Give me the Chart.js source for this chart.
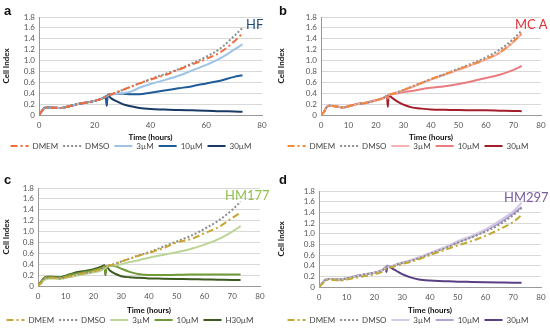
<!DOCTYPE html>
<html>
<head>
<meta charset="utf-8">
<script src="https://cdn.jsdelivr.net/npm/chart.js@4.4.0/dist/chart.umd.min.js"></script>
<style>
  body { margin: 0; background: #fff; font-family: Lato, "Liberation Sans", sans-serif; overflow: hidden; }
  #wrap { position: relative; width: 550px; height: 331px; }
  .panel { position: absolute; width: 275px; }
  .letter { position: absolute; font: bold 13px "Liberation Sans", Arial, sans-serif; color: #111; }
  .name { position: absolute; font-size: 13px; }
</style>
</head>
<body>
<div id="wrap">
  <div class="panel" style="left:0;top:0"><canvas id="cA" width="275" height="165"></canvas></div>
  <div class="panel" style="left:275px;top:0"><canvas id="cB" width="275" height="165"></canvas></div>
  <div class="panel" style="left:0;top:165px"><canvas id="cC" width="275" height="170"></canvas></div>
  <div class="panel" style="left:275px;top:165px"><canvas id="cD" width="275" height="170"></canvas></div>
  <div class="letter" style="left:4px;top:3px">a</div>
  <div class="letter" style="left:279px;top:3px">b</div>
  <div class="letter" style="left:4px;top:172px">c</div>
  <div class="letter" style="left:279px;top:172px">d</div>
  <div class="name" style="left:246px;top:16px;color:#1f4e79">HF</div>
  <div class="name" style="left:515px;top:16px;color:#e0303a">MC A</div>
  <div class="name" style="left:225px;top:187px;color:#92c050">HM177</div>
  <div class="name" style="left:504px;top:189px;color:#7a5ca0">HM297</div>
</div>
<script>
// time points (hours)
const times = [0, 1, 2, 3, 5, 8, 10, 13, 16, 20, 23, 24, 24.3, 24.6, 26, 28, 30, 33, 36, 40, 45, 50, 55, 60, 65, 70, 73];
const labels = ["DMEM", "DMSO", "3\u00b5M", "10\u00b5M", "30\u00b5M"];
const labelsC = ["DMEM", "DMSO", "3\u00b5M", "10\u00b5M", "H30\u00b5M"];
const yTicks = [0, 0.2, 0.4, 0.6, 0.8, 1.0, 1.2, 1.4, 1.6, 1.8];

// a - HF
const hfDmem = [0, 0.07, 0.13, 0.14, 0.135, 0.13, 0.15, 0.19, 0.22, 0.26, 0.31, 0.34, 0.35, 0.36, 0.38, 0.42, 0.46, 0.52, 0.58, 0.65, 0.73, 0.83, 0.93, 1.03, 1.15, 1.35, 1.5];
const hfDmso = [0, 0.07, 0.13, 0.14, 0.135, 0.13, 0.15, 0.19, 0.22, 0.26, 0.31, 0.34, 0.35, 0.36, 0.39, 0.42, 0.46, 0.52, 0.58, 0.66, 0.75, 0.84, 0.95, 1.07, 1.22, 1.45, 1.6];
const hf3 = [0, 0.07, 0.13, 0.14, 0.135, 0.13, 0.15, 0.19, 0.22, 0.26, 0.31, 0.34, 0.34, 0.35, 0.38, 0.39, 0.40, 0.43, 0.5, 0.57, 0.64, 0.72, 0.82, 0.92, 1.04, 1.2, 1.3];
const hf10 = [0, 0.07, 0.13, 0.14, 0.135, 0.13, 0.15, 0.19, 0.22, 0.26, 0.31, 0.34, 0.2, 0.37, 0.38, 0.39, 0.39, 0.38, 0.38, 0.41, 0.45, 0.49, 0.53, 0.58, 0.63, 0.7, 0.73];
const hf30 = [0, 0.07, 0.13, 0.14, 0.135, 0.13, 0.15, 0.19, 0.22, 0.26, 0.31, 0.34, 0.17, 0.36, 0.3, 0.25, 0.2, 0.16, 0.13, 0.11, 0.1, 0.09, 0.085, 0.08, 0.07, 0.065, 0.06];

// b - MC A
const mcDmem = [0, 0.05, 0.14, 0.17, 0.16, 0.14, 0.16, 0.2, 0.22, 0.27, 0.32, 0.35, 0.36, 0.37, 0.39, 0.42, 0.46, 0.52, 0.58, 0.66, 0.75, 0.84, 0.93, 1.03, 1.15, 1.35, 1.5];
const mcDmso = [0, 0.05, 0.14, 0.17, 0.16, 0.14, 0.16, 0.2, 0.22, 0.27, 0.32, 0.35, 0.36, 0.37, 0.39, 0.42, 0.46, 0.52, 0.58, 0.66, 0.75, 0.85, 0.95, 1.06, 1.2, 1.4, 1.55];
const mc3 = [0, 0.05, 0.14, 0.17, 0.16, 0.14, 0.16, 0.2, 0.22, 0.27, 0.32, 0.35, 0.36, 0.37, 0.39, 0.42, 0.45, 0.51, 0.57, 0.65, 0.74, 0.83, 0.92, 1.02, 1.14, 1.34, 1.49];
const mc10 = [0, 0.05, 0.14, 0.17, 0.16, 0.14, 0.16, 0.2, 0.22, 0.27, 0.32, 0.35, 0.3, 0.37, 0.38, 0.4, 0.42, 0.44, 0.47, 0.5, 0.53, 0.57, 0.62, 0.68, 0.74, 0.83, 0.9];
const mc30 = [0, 0.05, 0.14, 0.17, 0.16, 0.14, 0.16, 0.2, 0.22, 0.27, 0.32, 0.35, 0.15, 0.36, 0.31, 0.24, 0.19, 0.14, 0.12, 0.1, 0.095, 0.09, 0.088, 0.085, 0.08, 0.075, 0.07];

// c - HM177
const h177Dmem = [0, 0.05, 0.12, 0.15, 0.15, 0.14, 0.16, 0.2, 0.23, 0.27, 0.32, 0.35, 0.36, 0.37, 0.38, 0.41, 0.45, 0.5, 0.55, 0.61, 0.69, 0.8, 0.86, 0.97, 1.08, 1.25, 1.35];
const h177Dmso = [0, 0.05, 0.12, 0.15, 0.15, 0.14, 0.16, 0.2, 0.23, 0.27, 0.32, 0.35, 0.36, 0.37, 0.38, 0.41, 0.45, 0.5, 0.56, 0.62, 0.72, 0.82, 0.92, 1.05, 1.2, 1.4, 1.55];
const h1773 = [0, 0.04, 0.1, 0.13, 0.14, 0.13, 0.15, 0.18, 0.21, 0.25, 0.29, 0.32, 0.33, 0.35, 0.37, 0.38, 0.4, 0.44, 0.47, 0.52, 0.57, 0.62, 0.68, 0.76, 0.86, 1.0, 1.1];
const h17710 = [0, 0.06, 0.13, 0.16, 0.16, 0.15, 0.18, 0.22, 0.25, 0.29, 0.33, 0.36, 0.22, 0.34, 0.37, 0.36, 0.32, 0.26, 0.22, 0.2, 0.2, 0.205, 0.21, 0.21, 0.21, 0.21, 0.21];
const h17730 = [0, 0.07, 0.14, 0.17, 0.17, 0.16, 0.19, 0.24, 0.27, 0.31, 0.36, 0.38, 0.2, 0.36, 0.28, 0.22, 0.18, 0.16, 0.15, 0.14, 0.135, 0.13, 0.125, 0.12, 0.115, 0.11, 0.11];

// d - HM297
const h297Dmem = [0, 0.05, 0.1, 0.13, 0.13, 0.12, 0.14, 0.17, 0.2, 0.24, 0.29, 0.33, 0.34, 0.35, 0.37, 0.4, 0.43, 0.47, 0.52, 0.6, 0.69, 0.78, 0.86, 0.96, 1.08, 1.22, 1.35];
const h297Dmso = [0, 0.06, 0.12, 0.15, 0.15, 0.14, 0.16, 0.2, 0.23, 0.27, 0.32, 0.36, 0.37, 0.38, 0.38, 0.42, 0.45, 0.49, 0.54, 0.62, 0.72, 0.83, 0.93, 1.04, 1.17, 1.35, 1.48];
const h2973 = [0, 0.06, 0.12, 0.15, 0.15, 0.14, 0.16, 0.2, 0.23, 0.27, 0.32, 0.36, 0.37, 0.38, 0.39, 0.43, 0.46, 0.5, 0.56, 0.64, 0.74, 0.86, 0.96, 1.08, 1.24, 1.42, 1.58];
const h29710 = [0, 0.06, 0.12, 0.15, 0.15, 0.14, 0.16, 0.2, 0.23, 0.27, 0.32, 0.36, 0.37, 0.38, 0.39, 0.42, 0.45, 0.5, 0.55, 0.63, 0.73, 0.84, 0.94, 1.06, 1.2, 1.38, 1.5];
const h29730 = [0, 0.06, 0.12, 0.15, 0.15, 0.14, 0.16, 0.2, 0.23, 0.27, 0.32, 0.37, 0.28, 0.4, 0.36, 0.3, 0.24, 0.18, 0.14, 0.12, 0.11, 0.1, 0.095, 0.09, 0.085, 0.08, 0.08];

const dashDot = [7, 3, 2, 3];
const dotted = [2, 2];

function series(values, label, color, dash) {
  return {
    label: label,
    data: times.map((t, i) => ({ x: t, y: values[i] })),
    borderColor: color,
    backgroundColor: color,
    borderWidth: 2,
    borderDash: dash || [],
    pointRadius: 0,
    cubicInterpolationMode: "monotone",
  };
}

function makeChart(id, datasets, xStep, opts) {
  const font = { family: "Lato, 'Liberation Sans', sans-serif", size: 8 };
  new Chart(document.getElementById(id), {
    type: "line",
    data: { datasets: datasets },
    options: {
      responsive: false,
      animation: false,
      layout: { padding: opts.padding },
      plugins: {
        legend: {
          position: "bottom",
          labels: {
            usePointStyle: true,
            pointStyle: "line",
            pointStyleWidth: 18,
            boxHeight: 6,
            padding: 5,
            color: "#444",
            font: font,
            generateLabels: chart => {
              const items = Chart.defaults.plugins.legend.labels.generateLabels(chart);
              items.forEach(it => {
                const ds = chart.data.datasets[it.datasetIndex];
                it.lineDash = ds.borderDash;
                it.lineWidth = 2;
              });
              return items;
            },
          },
        },
        tooltip: { enabled: false },
      },
      scales: {
        x: {
          type: "linear",
          min: 0,
          max: 80,
          ticks: { stepSize: xStep, color: "#555", font: font, padding: 3, maxRotation: 0 },
          grid: { display: false, drawTicks: true, tickLength: 3 },
          border: { color: "#999" },
          title: {
            display: true, text: "Time (hours)", color: "#111",
            font: { family: font.family, size: 8, weight: "bold" },
            padding: { top: 0, bottom: opts.titlePad },
          },
          afterFit: s => { s.height = opts.xh; },
        },
        y: {
          min: 0,
          max: 1.8,
          afterBuildTicks: s => { s.ticks = yTicks.map(v => ({ value: v })); },
          ticks: { autoSkip: false, color: "#555", font: font, padding: 4, callback: v => (v === 0 ? "0" : v.toFixed(1)) },
          grid: { color: "#d9d9d9", drawTicks: false },
          border: { color: "#999" },
          title: { display: true, text: "Cell Index", color: "#111", font: { family: font.family, size: 8, weight: "bold" }, padding: 2 },
          afterFit: s => { s.width = opts.yw; },
        },
      },
    },
  });
}

makeChart("cA", [
  series(hfDmem, labels[0], "#f26b3a", dashDot),
  series(hfDmso, labels[1], "#8c8c8c", dotted),
  series(hf3, labels[2], "#9fc3e7"),
  series(hf10, labels[3], "#1f5c99"),
  series(hf30, labels[4], "#1a3a63"),
], 20, { padding: { top: 17, right: 13, bottom: 5, left: 0 }, yw: 39, xh: 22, titlePad: -5 });

makeChart("cB", [
  series(mcDmem, labels[0], "#f58a3c", dashDot),
  series(mcDmso, labels[1], "#8c8c8c", dotted),
  series(mc3, labels[2], "#f6b3b3"),
  series(mc10, labels[3], "#ea7c80"),
  series(mc30, labels[4], "#a31e2a"),
], 10, { padding: { top: 17, right: 9, bottom: 5, left: 0 }, yw: 46, xh: 22, titlePad: -5 });

makeChart("cC", [
  series(h177Dmem, labelsC[0], "#c9a532", dashDot),
  series(h177Dmso, labelsC[1], "#8c8c8c", dotted),
  series(h1773, labelsC[2], "#bcd596"),
  series(h17710, labelsC[3], "#6f9a35"),
  series(h17730, labelsC[4], "#3b5a1f"),
], 10, { padding: { top: 23, right: 15, bottom: 1, left: 0 }, yw: 38, xh: 25, titlePad: -4 });

makeChart("cD", [
  series(h297Dmem, labels[0], "#c2a935", dashDot),
  series(h297Dmso, labels[1], "#8c8c8c", dotted),
  series(h2973, labels[2], "#d4c8e6"),
  series(h29710, labels[3], "#b2a3d3"),
  series(h29730, labels[4], "#5b3f84"),
], 10, { padding: { top: 26, right: 9, bottom: 1, left: 0 }, yw: 44, xh: 24, titlePad: -4 });
</script>
</body>
</html>
